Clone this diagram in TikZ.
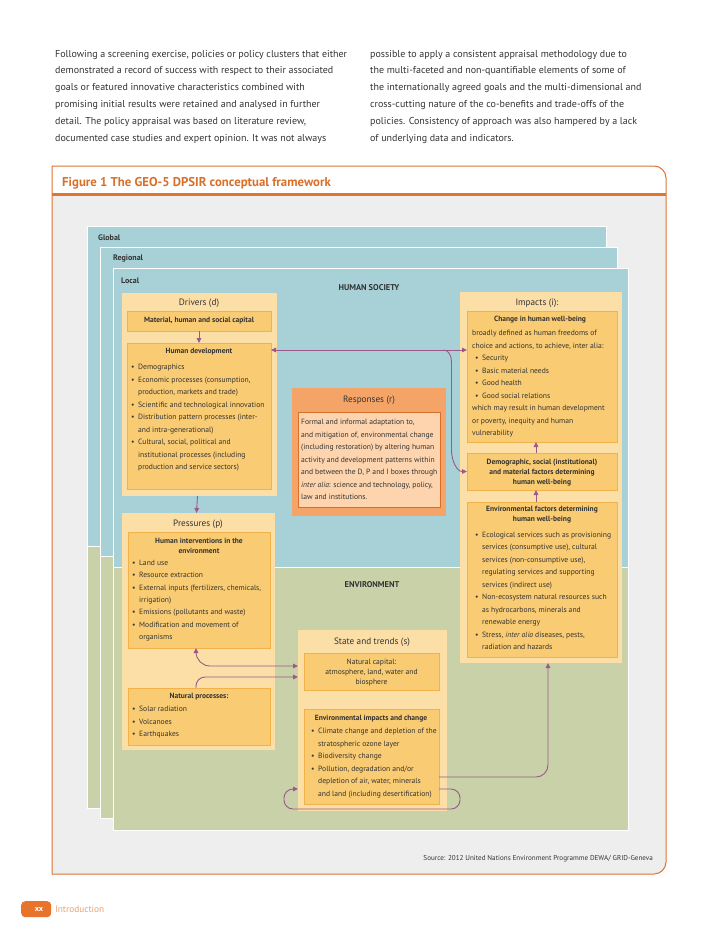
\documentclass[tikz,border=0pt]{standalone}
\usepackage{fontspec}
\setmainfont{PT Sans}
\usetikzlibrary{arrows.meta,calc}
\definecolor{txt}{HTML}{333333}
\definecolor{bgc}{HTML}{EEEEEE}
\definecolor{framec}{HTML}{DE7632}
\definecolor{titlec}{HTML}{D9702A}
\definecolor{tealc}{HTML}{A7D1D7}
\definecolor{greenc}{HTML}{C9D1A9}
\definecolor{outerc}{HTML}{FCDEA7}
\definecolor{innerc}{HTML}{F9CB72}
\definecolor{innerb}{HTML}{F2B24B}
\definecolor{respc}{HTML}{F5A467}
\definecolor{respin}{HTML}{FDD4AD}
\definecolor{respb}{HTML}{D8702B}
\definecolor{purp}{HTML}{9C5889}
\definecolor{tabc}{HTML}{E8732A}
\definecolor{introc}{HTML}{E8A070}
\newcommand\itm{\makebox[7pt][l]{\textbullet}}
\newcommand\cnt{\hspace*{7pt}}
\newcommand\tl[1]{\begin{tabular}[t]{@{}l@{}}#1\end{tabular}}
\newcommand\tc[1]{\begin{tabular}[t]{@{}c@{}}#1\end{tabular}}
\newcommand\mypanel[5]{%
  \fill[tealc] (#1,#2) rectangle (#3,#4);
  \fill[greenc] (#1,#4) rectangle (#3,#5);
  \draw[white,line width=0.9pt] (#1,#2) rectangle (#3,#5);
  \draw[white,line width=0.9pt] (#1,#4) -- (#3,#4);}
\begin{document}
\begin{tikzpicture}[x=1pt,y=-1pt,
  para/.style={anchor=base west,inner sep=0,text=txt,font=\fontsize{10}{16.8}\selectfont},
  outerbox/.style={fill=outerc,draw=none,inner sep=0,outer sep=0,anchor=north west},
  innerbox/.style={fill=innerc,draw=innerb,line width=0.6pt,inner sep=0,outer sep=0,anchor=north west},
  boxtitle/.style={inner sep=0,text=txt,font=\fontsize{9.2}{11}\selectfont},
  btitle/.style={inner sep=0,text=txt,font=\bfseries\fontsize{7.5}{10}\selectfont},
  body/.style={anchor=base west,inner sep=0,text=txt,font=\fontsize{7.6}{12.5}\selectfont},
  lbl/.style={anchor=west,inner sep=0,text=txt,font=\bfseries\fontsize{8}{9}\selectfont},
  conn/.style={draw=purp,line width=0.9pt},
  >={Triangle[length=5pt,width=4.5pt]}]
\useasboundingbox (0,0) rectangle (728,945);
\fill[white] (0,0) rectangle (728,945);

% top text
\node[para] (lefttext) at (55,57) {\tl{Following a screening exercise, policies or policy clusters that either\\
demonstrated a record of success with respect to their associated\\
goals or featured innovative characteristics combined with\\
promising initial results were retained and analysed in further\\
detail. The policy appraisal was based on literature review,\\
documented case studies and expert opinion. It was not always}};
\node[para] (righttext) at (370,57) {\tl{possible to apply a consistent appraisal methodology due to\\
the multi-faceted and non-quantifiable elements of some of\\
the internationally agreed goals and the multi-dimensional and\\
cross-cutting nature of the co-benefits and trade-offs of the\\
policies. Consistency of approach was also hampered by a lack\\
of underlying data and indicators.}};

% frame
\fill[bgc] (52,196) -- (666,196) -- (666,862) arc[start angle=0,end angle=-90,radius=12pt] -- (52,874) -- cycle;
\fill[white] (52,166) -- (654,166) arc[start angle=90,end angle=0,radius=12pt] -- (666,194) -- (52,194) -- cycle;
\draw[framec,line width=3pt] (52,194.5) -- (666,194.5);
\draw[framec,line width=1pt] (52,874) -- (52,166) -- (654,166) arc[start angle=90,end angle=0,radius=12pt] -- (666,862) arc[start angle=0,end angle=-90,radius=12pt] -- cycle;
\node[anchor=west,inner sep=0,text=titlec,font=\bfseries\fontsize{12.8}{14}\selectfont] (figtitle) at (62,183) {Figure 1 The GEO-5 DPSIR conceptual framework};

% panels
\mypanel{87}{226}{606}{546}{808}
\mypanel{100}{247}{617}{556}{818}
\mypanel{113}{268}{628}{567}{830}
\node[lbl] (lglobal) at (98,238) {Global};
\node[lbl] (lregional) at (113,259) {Regional};
\node[lbl] (llocal) at (121,281) {Local};
\node[btitle,font=\bfseries\fontsize{8.4}{10}\selectfont] (hsoc) at (369,288) {HUMAN SOCIETY};
\node[btitle,font=\bfseries\fontsize{8.4}{10}\selectfont] (envl) at (372,585) {ENVIRONMENT};

% Drivers
\node[outerbox,minimum width=155pt,minimum height=203pt] (drivers) at (122,293) {};
\node[boxtitle] (driverst) at (199,303) {Drivers (d)};
\node[innerbox,minimum width=144pt,minimum height=20pt] (matcap) at (127,311) {};
\node[btitle] (matcapt) at (matcap.center) {Material, human and social capital};
\node[innerbox,minimum width=144pt,minimum height=146pt] (humdev) at (127,343) {};
\node[btitle] (humdevt) at (199,352) {Human development};
\node[body] (humdevl) at (131,369.5) {\tl{\itm Demographics\\
\itm Economic processes (consumption,\\
\cnt production, markets and trade)\\
\itm Scientific and technological innovation\\
\itm Distribution pattern processes (inter-\\
\cnt and intra-generational)\\
\itm Cultural, social, political and\\
\cnt institutional processes (including\\
\cnt production and service sectors)}};

% Pressures
\node[outerbox,minimum width=153pt,minimum height=237pt] (pressures) at (122,513) {};
\node[boxtitle] (pressurest) at (198,524) {Pressures (p)};
\node[innerbox,minimum width=142pt,minimum height=116pt] (humint) at (128,532) {};
\node[btitle,anchor=base] (humintt) at (199,543.5) {\tc{Human interventions in the\\environment}};
\node[body,font=\fontsize{7.6}{12.35}\selectfont] (humintl) at (132,565.5) {\tl{\itm Land use\\
\itm Resource extraction\\
\itm External inputs (fertilizers, chemicals,\\
\cnt irrigation)\\
\itm Emissions (pollutants and waste)\\
\itm Modification and movement of\\
\cnt organisms}};
\node[innerbox,minimum width=142pt,minimum height=57pt] (natproc) at (128,688) {};
\node[btitle] (natproct) at (199,697) {Natural processes:};
\node[body] (natprocl) at (132,711.5) {\tl{\itm Solar radiation\\
\itm Volcanoes\\
\itm Earthquakes}};

% Responses
\node[outerbox,fill=respc,minimum width=154pt,minimum height=128pt] (responses) at (292,388) {};
\node[boxtitle] (responsest) at (369,400) {Responses (r)};
\node[innerbox,fill=respin,draw=respb,minimum width=142pt,minimum height=95pt] (respin) at (298,412) {};
\node[body] (respl) at (301,424.5) {\tl{Formal and informal adaptation to,\\
and mitigation of, environmental change\\
(including restoration) by altering human\\
activity and development patterns within\\
and between the D, P and I boxes through\\
\textit{inter alia}: science and technology, policy,\\
law and institutions.}};

% State
\node[outerbox,minimum width=149pt,minimum height=181pt] (state) at (298,630) {};
\node[boxtitle] (statet) at (372,642) {State and trends (s)};
\node[innerbox,minimum width=135pt,minimum height=37pt] (natcap) at (304,653) {};
\node[btitle,anchor=base,font=\fontsize{7.6}{10}\selectfont] (natcapt) at (371.5,664.5) {\tc{Natural capital:\\atmosphere, land, water and\\biosphere}};
\node[innerbox,minimum width=135pt,minimum height=95pt] (envimp) at (304,709) {};
\node[btitle] (envimpt) at (371,719) {Environmental impacts and change};
\node[body,font=\fontsize{7.6}{12.6}\selectfont] (envimpl) at (311,733.5) {\tl{\itm Climate change and depletion of the\\
\cnt stratospheric ozone layer\\
\itm Biodiversity change\\
\itm Pollution, degradation and/or\\
\cnt depletion of air, water, minerals\\
\cnt and land (including desertification)}};

% Impacts
\node[outerbox,minimum width=162pt,minimum height=371pt] (impacts) at (460,292) {};
\node[boxtitle] (impactst) at (537,303) {Impacts (i):};
\node[innerbox,minimum width=150pt,minimum height=131pt] (change) at (467,311) {};
\node[btitle] (changet) at (540,320) {Change in human well-being};
\node[body] (changel) at (472,335.5) {\tl{broadly defined as human freedoms of\\
choice and actions, to achieve, inter alia:\\
\hspace*{3pt}\itm Security\\
\hspace*{3pt}\itm Basic material needs\\
\hspace*{3pt}\itm Good health\\
\hspace*{3pt}\itm Good social relations\\
which may result in human development\\
or poverty, inequity and human\\
vulnerability}};
\node[innerbox,minimum width=150pt,minimum height=37pt] (demog) at (467,453) {};
\node[btitle,anchor=base] (demogt) at (542,464.5) {\tc{Demographic, social (institutional)\\and material factors determining\\human well-being}};
\node[innerbox,minimum width=150pt,minimum height=155pt] (envfac) at (467,502) {};
\node[btitle,anchor=base] (envfact) at (542,511.5) {\tc{Environmental factors determining\\human well-being}};
\node[body,font=\fontsize{7.6}{12.45}\selectfont] (envfacl) at (475,537.5) {\tl{\itm Ecological services such as provisioning\\
\cnt services (consumptive use), cultural\\
\cnt services (non-consumptive use),\\
\cnt regulating services and supporting\\
\cnt services (indirect use)\\
\itm Non-ecosystem natural resources such\\
\cnt as hydrocarbons, minerals and\\
\cnt renewable energy\\
\itm Stress, \textit{inter alia} diseases, pests,\\
\cnt radiation and hazards}};

% connectors
\draw[conn,->] (matcap.south) -- (humdev.north);
\draw[conn,->] ([xshift=-2pt]drivers.south) -- ([xshift=-2pt]pressures.north);
\coordinate (hl) at ([yshift=-7pt]humdev.north east);
\coordinate (hr) at (change.west |- hl);
\draw[conn,<->] (hl) -- (hr);
\coordinate (branch) at ($(hl)!0.88!(hr)$);
\draw[conn,->] (branch) to[out=0,in=90] ($(branch)+(8,12)$) -- ($(branch)+(8,100)$) to[out=-90,in=180] (demog.west);
\draw[conn,->] ([xshift=-6pt]demog.north) -- ([xshift=-6pt]change.south);
\draw[conn,->] ([xshift=-6pt]envfac.north) -- ([xshift=-6pt]demog.south);
\draw[conn,<->,rounded corners=14pt] ([xshift=-3pt]humint.south) |- ([yshift=-36pt]state.north west);
\draw[conn,->,rounded corners=9pt] ([xshift=-3pt]natproc.north) |- ([yshift=-47pt]state.north west);
\draw[conn,->,rounded corners=9pt] ([yshift=-80pt]envimp.north east) -- ++(21,0) -- ++(0,20) -- ++(-176,0) -- ++(0,-20) -- ([yshift=-159pt]state.north west);
\draw[conn,->,rounded corners=12pt] ([yshift=-68pt]envimp.north east) -| ([xshift=7pt]impacts.south);

% source and footer
\node[anchor=east,inner sep=0,text=txt,font=\fontsize{7.1}{8}\selectfont] (source) at (653,859) {Source: 2012 United Nations Environment Programme DEWA/ GRID-Geneva};
\node[fill=tabc,rounded corners=4pt,minimum width=30pt,minimum height=16pt,inner sep=0,anchor=north west] (tab) at (21,901) {};
\node[text=white,inner sep=0,font=\bfseries\fontsize{8}{9}\selectfont] (tabt) at (39,909) {xx};
\node[anchor=west,inner sep=0,text=introc,font=\fontsize{9.3}{10}\selectfont] (intro) at (55,909) {Introduction};
\end{tikzpicture}
\end{document}
